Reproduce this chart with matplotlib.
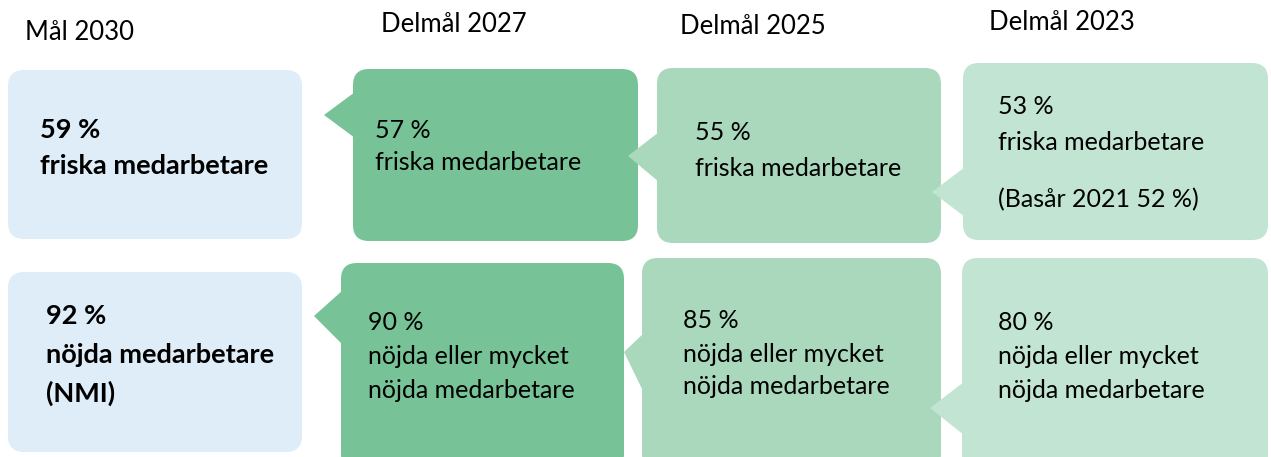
import matplotlib.pyplot as plt
from matplotlib.patches import FancyBboxPatch, Polygon

plt.rcParams['font.family'] = ['Lato', 'DejaVu Sans']

# Data
headings = ["Mål 2030", "Delmål 2027", "Delmål 2025", "Delmål 2023"]
friska = [59, 57, 55, 53]
nojda = [92, 90, 85, 80]
basar_year = 2021
basar_value = 52

colors = ["#deedf7", "#77c397", "#a9d8bd", "#c2e4d2"]

W, H = 1271, 457
fig = plt.figure(figsize=(W / 100, H / 100), dpi=100)
ax = fig.add_axes([0, 0, 1, 1])
ax.set_xlim(0, W)
ax.set_ylim(H, 0)
ax.axis("off")


def box(x0, y0, x1, y1, color, pointer=None):
    r = 16
    p = FancyBboxPatch((x0 + r, y0 + r), (x1 - x0) - 2 * r, (y1 - y0) - 2 * r,
                       boxstyle=f"round,pad={r}", fc=color, ec="none", zorder=1)
    ax.add_patch(p)
    if pointer is not None:
        tip, b0, b1 = pointer
        ax.add_patch(Polygon([(x0 + 2, b0), tip, (x0 + 2, b1)], closed=True,
                             fc=color, ec="none", zorder=1))


# headings
head_pos = [(25, 32), (381, 24), (680, 27), (989, 22)]
for (x, y), t in zip(head_pos, headings):
    ax.text(x, y, t, fontsize=18.5, ha="left", va="center")

# row 1 boxes
box(8, 70, 302, 239, colors[0])
box(353, 69, 638, 241, colors[1], ((324, 115), 92, 138))
box(657, 68, 941, 243, colors[2], ((628, 156), 132, 182))
box(963, 63, 1268, 240, colors[3], ((932, 192), 167, 217))

# row 2 boxes
box(8, 272, 302, 452, colors[0])
box(341, 263, 624, 470, colors[1], ((314, 316), 290, 345))
box(642, 258, 941, 470, colors[2], ((624, 352), 333, 393))
box(962, 258, 1268, 470, colors[3], ((930, 408), 382, 435))

fs = 18
fb = 19.5
# row 1 text
ax.text(40, 130, f"{friska[0]} %", fontsize=fb, fontweight="bold", va="center")
ax.text(40, 166, "friska medarbetare", fontsize=fb, fontweight="bold", va="center")
ax.text(375, 130, f"{friska[1]} %", fontsize=fs, va="center")
ax.text(375, 163, "friska medarbetare", fontsize=fs, va="center")
ax.text(695, 132, f"{friska[2]} %", fontsize=fs, va="center")
ax.text(695, 168, "friska medarbetare", fontsize=fs, va="center")
ax.text(998, 107, f"{friska[3]} %", fontsize=fs, va="center")
ax.text(998, 143, "friska medarbetare", fontsize=fs, va="center")
ax.text(998, 200, f"(Basår {basar_year} {basar_value} %)", fontsize=fs, va="center")

# row 2 text
ax.text(46, 316, f"{nojda[0]} %", fontsize=fb, fontweight="bold", va="center")
ax.text(46, 355, "nöjda medarbetare", fontsize=fb, fontweight="bold", va="center")
ax.text(46, 393, "(NMI)", fontsize=fb, fontweight="bold", va="center")
for x, y0, v in [(368, 323, nojda[1]), (683, 320, nojda[2]), (998, 323, nojda[3])]:
    ax.text(x, y0, f"{v} %", fontsize=fs, va="center")
    ax.text(x, y0 + 34, "nöjda eller mycket", fontsize=fs, va="center")
    ax.text(x, y0 + 67, "nöjda medarbetare", fontsize=fs, va="center")

fig.savefig("out.png", dpi=100)
